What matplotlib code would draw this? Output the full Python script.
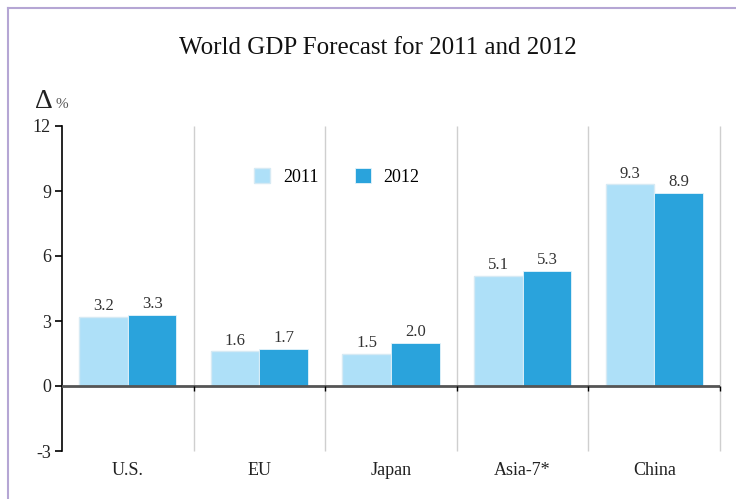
import numpy as np
import matplotlib.pyplot as plt
from matplotlib.lines import Line2D

# --- data ---
regions = ["U.S.", "EU", "Japan", "Asia-7*", "China"]
gdp_2011 = [3.2, 1.6, 1.5, 5.1, 9.3]
gdp_2012 = [3.3, 1.7, 2.0, 5.3, 8.9]
y_ticks = [-3, 0, 3, 6, 9, 12]

c11 = "#aee0f8"
c12 = "#2aa3dc"

plt.rcParams["font.family"] = ["Liberation Serif", "DejaVu Serif"]

fig = plt.figure(figsize=(7.36, 4.99), dpi=100)
ax = fig.add_axes([62/736, 1-451/499, 658/736, 325/499])

x = np.arange(len(regions))
w = 0.37
b1 = ax.bar(x - w/2, gdp_2011, w, color=c11, edgecolor="#d6eaf4", linewidth=1, zorder=3, label="2011")
b2 = ax.bar(x + w/2, gdp_2012, w, color=c12, edgecolor="#e6f4fb", linewidth=0.6, zorder=3, label="2012")

for bars, vals in ((b1, gdp_2011), (b2, gdp_2012)):
    for r, v in zip(bars, vals):
        ax.annotate(f"{v:.1f}", (r.get_x() + r.get_width()/2, v), xytext=(0, 2),
                    textcoords="offset points", ha="center", va="bottom",
                    fontsize=12, color="#333333")

ax.set_xlim(-0.5, len(regions) - 0.5)
ax.set_ylim(-3, 12)

# separators between regions
bounds = np.arange(len(regions)) + 0.5
ax.vlines(bounds, -3, 12, color="#cfcfcf", lw=1, zorder=1, clip_on=False)
ax.axhline(0, color="#555555", lw=2, zorder=4)
ax.vlines(bounds, -0.25, 0, color="black", lw=1, zorder=4, clip_on=False)

for s in ["top", "right", "bottom"]:
    ax.spines[s].set_visible(False)
ax.spines["left"].set_color("black")
ax.spines["left"].set_linewidth(1.2)

ax.set_yticks(y_ticks)
ax.set_yticklabels([str(t) for t in y_ticks], fontsize=13, color="#222222")
ax.tick_params(axis="y", length=5, width=1.2, pad=3)
ax.set_xticks(x)
ax.set_xticklabels(regions, fontsize=13, color="#222222")
ax.tick_params(axis="x", length=0, pad=8)

leg = ax.legend(loc="center left", bbox_to_anchor=(0.292, 0.843), ncol=2, frameon=False,
                fontsize=13, handlelength=0.9, handleheight=0.9, columnspacing=2.0,
                handletextpad=0.7, borderpad=0, borderaxespad=0)

fig.text(378/736, 1-48/499, "World GDP Forecast for 2011 and 2012", ha="center", va="center",
         fontsize=18, color="#111111")
fig.text(35/736, 1-102/499, "Δ", ha="left", va="center", fontsize=20, color="#222222")
fig.text(55/736, 1-104/499, "%", ha="left", va="center", fontsize=11, color="#555555")

# frame lines along top and left
fig.add_artist(Line2D([8/736, 8/736], [0, 1-8/499], color="#b5a6d4", lw=1.5))
fig.add_artist(Line2D([8/736, 1], [1-8/499, 1-8/499], color="#b5a6d4", lw=1.5))

fig.savefig("out.png", dpi=100)
